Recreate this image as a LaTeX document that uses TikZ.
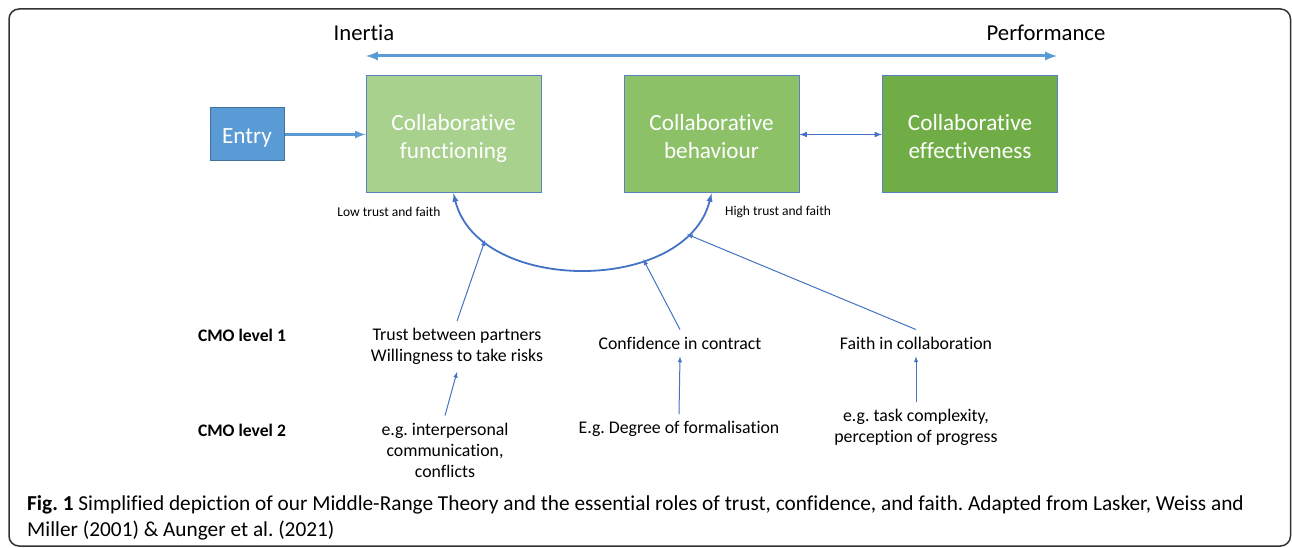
\documentclass[tikz,border=0pt]{standalone}
\usepackage{fontspec}
\setmainfont{Carlito}[Ligatures=NoCommon]
\usetikzlibrary{arrows,positioning,calc}
\definecolor{entryBlue}{HTML}{5B9BD5}
\definecolor{entryEdge}{HTML}{41719C}
\definecolor{lineBlue}{HTML}{4472C4}
\definecolor{boxEdge}{HTML}{5A82C2}
\definecolor{greenA}{HTML}{A9D18E}
\definecolor{greenB}{HTML}{8CC168}
\definecolor{greenC}{HTML}{70AD47}
\frenchspacing

\begin{document}
\begin{tikzpicture}
[
x=1pt,y=-1pt,
arr/.style={>=latex, shorten >=0pt, shorten <=0pt},
block/.style={draw=boxEdge,line width=1pt,text=white,align=center,inner sep=0pt,font=\fontsize{23.2}{28}\selectfont},
box/.style={block,minimum width=175pt,minimum height=117pt,text height=52.5pt,text depth=5pt},
entrybox/.style={block,fill=entryBlue,draw=entryEdge,minimum width=74pt,minimum height=53pt,text height=24pt,text depth=5pt},
axis/.style={font=\fontsize{22.7}{26}\selectfont},
small/.style={font=\fontsize{13.5}{16}\selectfont},
lvl/.style={font=\fontsize{17.6}{21}\selectfont\bfseries},
txt/.style={font=\fontsize{17.8}{21}\selectfont,align=center,inner sep=7pt},
thin/.style={arr,->,lineBlue,line width=1pt},
]
\useasboundingbox (0,0) rectangle (1292,548);
\draw[black!80,line width=1.5pt,rounded corners=10pt] (9,9) rectangle (1290.5,546);

% Nodes
\node[entrybox] (entry) at (247,134.5) {Entry};
\node[box,fill=greenA] (fun) at (453.5,134.5) {Collaborative\\functioning};
\node[box,fill=greenB] (beh) at (711.5,134.5) {Collaborative\\behaviour};
\node[box,fill=greenC] (eff) at (970,134.5) {Collaborative\\effectiveness};

\node[axis] (inertia) at (364,33) {Inertia};
\node[axis] (perf) at (1046,33) {Performance};
\coordinate (axL) at (366,56);
\coordinate (axR) at (1057,56);

\node[small] (low) at (389,212) {Low trust and faith};
\node[small] (high) at (778,212) {High trust and faith};

\node[lvl] (cmo1) at (242,335) {CMO level 1};
\node[lvl] (cmo2) at (242,430) {CMO level 2};

\node[txt] (trust) at (457,346.5) {Trust between partners\\Willingness to take risks};
\node[txt] (conf) at (680,343) {Confidence in contract};
\node[txt] (faith) at (916,343) {Faith in collaboration};

\node[txt] (inter) at (445,450) {e.g. interpersonal\\communication,\\conflicts};
\node[txt] (form) at (679,429) {E.g. Degree of formalisation};
\node[txt] (task) at (916,427.5) {e.g. task complexity,\\perception of progress};

\node[anchor=north west,align=left,inner sep=0pt,font=\fontsize{21.3}{26}\selectfont] (cap) at (27,495)
{\textbf{Fig. 1} Simplified depiction of our Middle-Range Theory and the essential roles of trust, confidence, and faith. Adapted from Lasker, Weiss and\\Miller (2001) \& Aunger et al. (2021)};

% Edges
\draw[arr,<->,entryBlue,line width=3pt] (axL) -- (axR);
\draw[arr,->,entryBlue,line width=2.5pt] (entry) -- (fun);
\draw[arr,<->,lineBlue,line width=1.5pt] (beh) -- (eff);
\draw[arr,<->,lineBlue,line width=1.8pt] (fun.south) .. controls +(25,101) and +(-25,101) .. (beh.south)
  coordinate[pos=0.19] (onL) coordinate[pos=0.68] (onM) coordinate[pos=0.84] (onR);
\draw[thin] (trust.north) -- (onL);
\draw[thin] (conf.north) -- (onM);
\draw[thin] (faith.north) -- (onR);
\draw[thin] (inter.north) -- (trust.south);
\draw[thin] (form.north) -- (conf.south);
\draw[thin] (task.north) -- (faith.south);

\end{tikzpicture}
\end{document}
